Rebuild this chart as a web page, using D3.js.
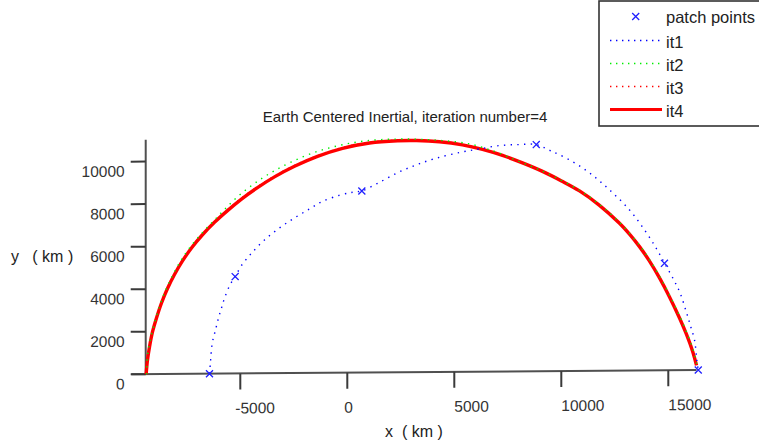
<!DOCTYPE html>
<html>
<head>
<meta charset="utf-8">
<script src="https://cdn.jsdelivr.net/npm/d3@7"></script>
<style>
  body { margin: 0; background: #fff; }
  svg { display: block; }
  text { font-family: "Liberation Sans", Arial, sans-serif; }
</style>
</head>
<body>
<svg id="chart" width="759" height="447"></svg>
<script>
// Tick values (km)
const xTicks = [-5000, 0, 5000, 10000, 15000];
const yTicks = [0, 2000, 4000, 6000, 8000, 10000];
// Extent of the drawn axis lines (km)
const xAxisRange = [-10090, 16320];
const yAxisRange = [0, 11030];
const yAxisAtX = -9420;

// Patch points used by the shooting iterations (km)
const patchX = [-6440, -5240, 680, 8830, 14820, 16400];
const patchY = [0, 4560, 8540, 10660, 5030, 0];

// Iteration 1 trajectory (km)
const it1X = [-6440, -6393, -6313, -6159, -6019, -5879, -5738, -5491, -5238, -4958, -4477, -3869, -3168,
  -2467, -1766, -1206, -364, 257, 678, 1425, 2360, 3220, 4154, 5323, 6178, 7112, 8014, 8827, 9482,
  10383, 11318, 12253, 13187, 13888, 14435, 14823, 15257, 15556, 15837, 16024, 16225, 16332, 16400];
const it1Y = [0, 551, 1430, 2055, 2618, 3088, 3543, 4153, 4556, 5058, 5651, 6273, 6832,
  7297, 7715, 8041, 8349, 8486, 8544, 8900, 9392, 9748, 10056, 10330, 10478, 10627, 10667, 10661, 10373,
  9929, 9310, 8503, 7554, 6608, 5742, 5034, 4244, 3616, 2748, 2121, 1413, 471, 0];

// Iteration 2 trajectory (km)
const it2X = [-9380, -9337, -9243, -9056, -8869, -8636, -8355, -8028, -7654, -7187, -6673, -6206, -5692,
  -5084, -4337, -3542, -2608, -1533, -364, 850, 2065, 3234, 4449, 5710, 6879, 7907, 8841, 9683,
  10897, 11832, 12767, 13701, 14169, 14636, 15103, 15571, 15898, 16178, 16341];
const it2Y = [0, 856, 1466, 2218, 2875, 3579, 4236, 4893, 5525, 6157, 6741, 7232, 7769,
  8353, 8935, 9447, 9934, 10373, 10693, 10896, 10966, 10957, 10882, 10717, 10356, 9924, 9540, 9134,
  8466, 7781, 6926, 5823, 5137, 4343, 3445, 2453, 1674, 896, 216];

// Iteration 4 (converged) trajectory (km)
const it4X = [-9400, -9337, -9243, -9103, -8916, -8682, -8402, -8075, -7701, -7281, -6767, -6206, -5598,
  -4944, -4196, -3402, -2467, -1393, -224, 1037, 2346, 3234, 4309, 5383, 6318, 7253, 8187, 9122,
  10010, 10851, 11785, 12720, 13187, 13654, 14122, 14589, 15056, 15524, 15851, 16131, 16318];
const it4Y = [0, 667, 1278, 1983, 2641, 3345, 4020, 4676, 5314, 5922, 6539, 7119, 7665,
  8201, 8736, 9234, 9725, 10183, 10551, 10795, 10889, 10892, 10827, 10673, 10454, 10165, 9804, 9397,
  8943, 8466, 7781, 6927, 6415, 5823, 5138, 4343, 3446, 2454, 1675, 896, 217];

// Iteration 3 trajectory (km), sampled at the same abscissae as iteration 4
const it3X = it4X.slice();
const it3Y = [0, 720, 1330, 2040, 2700, 3400, 4070, 4720, 5360, 5970, 6580, 7160, 7710,
  8250, 8780, 9280, 9770, 10220, 10590, 10830, 10920, 10920, 10850, 10690, 10460, 10170, 9810, 9400,
  8945, 8466, 7781, 6927, 6415, 5823, 5138, 4343, 3446, 2454, 1675, 896, 217];

const legendItems = [
  { label: "patch points", kind: "marker", color: "#0000ff" },
  { label: "it1", kind: "dot", color: "#0000ff" },
  { label: "it2", kind: "dot", color: "#00ee00" },
  { label: "it3", kind: "dot", color: "#ff0000" },
  { label: "it4", kind: "solid", color: "#ff0000" }
];

const svg = d3.select("#chart");

const x = d3.scaleLinear().domain([-5000, 15000]).range([240.3, 668.3]);
const y = d3.scaleLinear().domain([0, 10000]).range([374.3, 161.7]);

// The plot box is viewed slightly rotated, so the floor line leans a little.
const lean = -0.0076;
const leanOrigin = 132;
const plot = svg.append("g")
  .attr("transform", `matrix(1,${lean},0,1,0,${-lean * leanOrigin})`);

const axisColor = "#505050";
const textColor = "#333";

// x axis
plot.append("line")
  .attr("x1", x(xAxisRange[0])).attr("x2", x(xAxisRange[1]))
  .attr("y1", y(0)).attr("y2", y(0))
  .attr("stroke", axisColor).attr("stroke-width", 2);
plot.selectAll(".xtick").data(xTicks).enter().append("line")
  .attr("x1", d => x(d)).attr("x2", d => x(d))
  .attr("y1", y(0)).attr("y2", y(0) + 16)
  .attr("stroke", "#3a3a3a").attr("stroke-width", 2);
plot.selectAll(".xlab").data(xTicks).enter().append("text")
  .attr("x", d => x(d) + (d < 0 ? -5 : d === 0 ? -3 : 0))
  .attr("y", y(0) + 40)
  .attr("font-size", 15.5).attr("fill", textColor)
  .text(d => d);

// y axis
plot.append("line")
  .attr("x1", x(yAxisAtX)).attr("x2", x(yAxisAtX))
  .attr("y1", y(yAxisRange[0])).attr("y2", y(yAxisRange[1]))
  .attr("stroke", axisColor).attr("stroke-width", 2);
plot.selectAll(".ytick").data(yTicks).enter().append("line")
  .attr("x1", x(yAxisAtX) - 15).attr("x2", x(yAxisAtX))
  .attr("y1", d => y(d)).attr("y2", d => y(d))
  .attr("stroke", "#3a3a3a").attr("stroke-width", 2);
plot.selectAll(".ylab").data(yTicks).enter().append("text")
  .attr("x", x(yAxisAtX) - 21)
  .attr("y", d => y(d) + 15)
  .attr("text-anchor", "end")
  .attr("font-size", 15.5).attr("fill", textColor)
  .text(d => d);

// trajectories
const line = d3.line().x(d => x(d[0])).y(d => y(d[1])).curve(d3.curveCatmullRom);
const pts = (xs, ys) => xs.map((v, i) => [v, ys[i]]);

plot.append("path").attr("d", line(pts(it4X, it4Y)))
  .attr("fill", "none").attr("stroke", "#ff0000").attr("stroke-width", 3.4)
  .attr("stroke-linejoin", "round");
plot.append("path").attr("d", line(pts(it3X, it3Y)))
  .attr("fill", "none").attr("stroke", "#ff0000").attr("stroke-width", 1.4)
  .attr("stroke-dasharray", "1.4 5.3");
plot.append("path").attr("d", line(pts(it2X, it2Y)))
  .attr("fill", "none").attr("stroke", "#00ee00").attr("stroke-width", 1.4)
  .attr("stroke-dasharray", "1.4 5.3");
plot.append("path").attr("d", line(pts(it1X, it1Y)))
  .attr("fill", "none").attr("stroke", "#0000ff").attr("stroke-width", 1.4)
  .attr("stroke-dasharray", "1.4 5.3");

// patch point markers
const mk = 3.5;
const marks = plot.selectAll(".patch").data(pts(patchX, patchY)).enter().append("g")
  .attr("transform", d => `translate(${x(d[0])},${y(d[1])})`);
marks.append("path")
  .attr("d", `M${-mk},${-mk}L${mk},${mk}M${-mk},${mk}L${mk},${-mk}`)
  .attr("stroke", "#2020ff").attr("stroke-width", 1.3).attr("fill", "none");

// title
svg.append("text")
  .attr("x", 405).attr("y", 121.5)
  .attr("text-anchor", "middle")
  .attr("font-size", 15).attr("fill", "#222")
  .text("Earth Centered Inertial, iteration number=4");

// axis titles
svg.append("text")
  .attr("x", 414).attr("y", 437)
  .attr("text-anchor", "middle")
  .attr("font-size", 16).attr("fill", "#222")
  .style("white-space", "pre")
  .text("x  ( km )");
svg.append("text")
  .attr("x", 11).attr("y", 262)
  .attr("font-size", 16).attr("fill", "#222")
  .style("white-space", "pre")
  .text("y   ( km )");

// legend
const lg = svg.append("g");
lg.append("rect")
  .attr("x", 599).attr("y", 1).attr("width", 170).attr("height", 125)
  .attr("fill", "#fff").attr("stroke", "#333").attr("stroke-width", 1.6);
const rowY = [16.5, 42, 65, 88, 111];
legendItems.forEach((it, i) => {
  const cy = rowY[i];
  if (it.kind === "marker") {
    lg.append("path")
      .attr("d", `M${635.7 - mk},${cy - mk}L${635.7 + mk},${cy + mk}M${635.7 - mk},${cy + mk}L${635.7 + mk},${cy - mk}`)
      .attr("stroke", "#2020ff").attr("stroke-width", 1.3);
  } else {
    const l = lg.append("line")
      .attr("x1", 610).attr("x2", 662).attr("y1", cy - 1.5).attr("y2", cy - 1.5)
      .attr("stroke", it.color);
    if (it.kind === "dot") {
      l.attr("stroke-width", 1.4).attr("stroke-dasharray", "1.4 4.6");
    } else {
      l.attr("stroke-width", 3);
    }
  }
  lg.append("text")
    .attr("x", 666).attr("y", cy + 6)
    .attr("font-size", 16.5).attr("fill", "#222")
    .text(it.label);
});
</script>
</body>
</html>
